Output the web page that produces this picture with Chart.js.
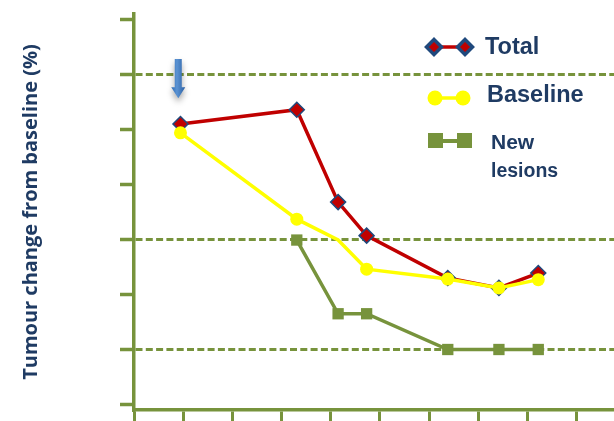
<!DOCTYPE html>
<html>
<head>
<meta charset="utf-8">
<script src="https://cdn.jsdelivr.net/npm/chart.js@4.4.1/dist/chart.umd.min.js"></script>
<style>
  html, body { margin: 0; padding: 0; background: #fff; }
  #wrap { width: 614px; height: 421px; position: relative; }
</style>
</head>
<body>
<div id="wrap"><canvas id="grafica"></canvas></div>
<script>
// DATOS
const xTotal = [0.945, 3.31, 4.15, 4.73, 6.38, 7.42, 8.22];
const total = [-9.0, -6.4, -23.2, -29.3, -37.0, -38.8, -36.1];
const xBaseline = [0.945, 3.31, 4.15, 4.73, 6.38, 7.42, 8.22];
const baseline = [-10.6, -26.3, -30.1, -35.4, -37.2, -38.8, -37.3];
const xNew = [3.31, 4.15, 4.73, 6.38, 7.42, 8.22];
const newLesions = [-30.1, -43.5, -43.5, -50.0, -50.0, -50.0];
const yTicks = [10, 0, -10, -20, -30, -40, -50, -60];
const dashedAt = [0, -30, -50];
const xTicks = [0, 1, 2, 3, 4, 5, 6, 7, 8, 9];
const arrowAt = [0.9, 2.8, -4.3]; // x, top, tip

const verde = "#77933C";
const azulTexto = "#1F3B63";

const pares = (xs, ys) => xs.map((x, i) => ({ x: x, y: ys[i] }));

// FLECHA AZUL
const flecha = {
  id: "flecha",
  afterDatasetsDraw(chart) {
    const ctx = chart.ctx;
    const x = chart.scales.x.getPixelForValue(arrowAt[0]);
    const top = chart.scales.y.getPixelForValue(arrowAt[1]);
    const tip = chart.scales.y.getPixelForValue(arrowAt[2]);
    const neck = tip - 11;
    ctx.save();
    ctx.shadowColor = "rgba(0,0,0,0.35)";
    ctx.shadowBlur = 6;
    ctx.shadowOffsetY = 4;
    const g = ctx.createLinearGradient(x - 7, 0, x + 7, 0);
    g.addColorStop(0, "#2F6CB5");
    g.addColorStop(0.4, "#5B93D3");
    g.addColorStop(1, "#2A5FA3");
    ctx.fillStyle = g;
    ctx.beginPath();
    ctx.moveTo(x - 3.5, top);
    ctx.lineTo(x + 3.5, top);
    ctx.lineTo(x + 3.5, neck);
    ctx.lineTo(x + 7, neck);
    ctx.lineTo(x, tip);
    ctx.lineTo(x - 7, neck);
    ctx.lineTo(x - 3.5, neck);
    ctx.closePath();
    ctx.fill();
    ctx.restore();
  }
};

// LEYENDA
const leyenda = {
  id: "leyenda",
  afterDraw(chart) {
    const ctx = chart.ctx;
    const dp = Chart.helpers.drawPoint;
    ctx.save();
    // Total
    ctx.strokeStyle = "#C00000"; ctx.lineWidth = 3.5;
    ctx.beginPath(); ctx.moveTo(433, 47); ctx.lineTo(465, 47); ctx.stroke();
    ctx.fillStyle = "#C00000"; ctx.strokeStyle = "#1F497D";
    [434, 465].forEach(px => dp(ctx, { pointStyle: "rectRot", radius: 7.5, borderWidth: 2 }, px, 47));
    // Baseline
    ctx.strokeStyle = "#FFFF00"; ctx.lineWidth = 3.5;
    ctx.beginPath(); ctx.moveTo(435, 98); ctx.lineTo(463, 98); ctx.stroke();
    ctx.fillStyle = "#FFFF00";
    [435, 463].forEach(px => dp(ctx, { pointStyle: "circle", radius: 7.5, borderWidth: 0 }, px, 98));
    // New lesions
    ctx.strokeStyle = verde; ctx.lineWidth = 4;
    ctx.beginPath(); ctx.moveTo(435, 141); ctx.lineTo(465, 141); ctx.stroke();
    ctx.fillStyle = verde;
    ctx.fillRect(428, 133, 15, 15);
    ctx.fillRect(457, 133, 15, 15);
    // textos
    ctx.fillStyle = azulTexto;
    ctx.textBaseline = "alphabetic";
    ctx.font = "bold 23.5px 'Liberation Sans', Arial, sans-serif";
    ctx.fillText("Total", 485, 54);
    ctx.fillText("Baseline", 487, 102);
    ctx.font = "bold 21px 'Liberation Sans', Arial, sans-serif";
    ctx.fillText("New", 491, 149);
    ctx.font = "bold 19.5px 'Liberation Sans', Arial, sans-serif";
    ctx.fillText("lesions", 491, 177);
    ctx.restore();
  }
};

const data = {
  datasets: [
    {
      label: "Baseline",
      data: pares(xBaseline, baseline),
      borderColor: "#FFFF00",
      backgroundColor: "#FFFF00",
      borderWidth: 3.5,
      pointStyle: "circle",
      pointRadius: [6.5, 6.5, 0, 6.5, 6.5, 6.5, 6.5],
      pointBorderWidth: 0,
    },
    {
      label: "Total",
      data: pares(xTotal, total),
      borderColor: "#C00000",
      backgroundColor: "#C00000",
      pointBorderColor: "#1F497D",
      borderWidth: 3.5,
      pointStyle: "rectRot",
      pointRadius: 7.5,
      pointBorderWidth: 1.5,
    },
    {
      label: "New lesions",
      data: pares(xNew, newLesions),
      borderColor: verde,
      backgroundColor: verde,
      borderWidth: 3.5,
      pointStyle: "rect",
      pointRadius: 8,
      pointBorderWidth: 0,
    },
  ],
};

const config = {
  type: "line",
  data: data,
  options: {
    responsive: false,
    animation: false,
    layout: { autoPadding: false, padding: { top: 14, right: 0, left: 0, bottom: 0 } },
    plugins: { legend: { display: false }, tooltip: { enabled: false } },
    scales: {
      x: {
        type: "linear",
        min: 0,
        max: 9.76,
        afterBuildTicks: (s) => { s.ticks = xTicks.map(v => ({ value: v })); },
        afterFit: (s) => { s.height = 11; },
        ticks: { display: false },
        grid: { drawOnChartArea: false, tickLength: 11, tickWidth: 3, tickColor: verde },
        border: { color: verde, width: 3.5 },
      },
      y: {
        min: -61,
        max: 11,
        afterBuildTicks: (s) => { s.ticks = yTicks.map(v => ({ value: v })); },
        afterFit: (s) => { s.width = 134; },
        ticks: { display: false },
        grid: {
          color: (c) => (c.tick && dashedAt.includes(c.tick.value) ? verde : "rgba(0,0,0,0)"),
          lineWidth: 3,
          tickLength: 14,
          tickWidth: 3.5,
          tickColor: verde,
        },
        border: { color: verde, width: 3.5, dash: [7, 3.3] },
        title: {
          display: true,
          text: "Tumour change from baseline (%)",
          color: azulTexto,
          font: { family: "'Open Sans', sans-serif", size: 20, weight: "bold" },
          padding: { top: 19, bottom: 0 },
        },
      },
    },
  },
};

const canvas = document.getElementById("grafica");
canvas.width = 614;
canvas.height = 421;
new Chart(canvas, Object.assign(config, { plugins: [flecha, leyenda] }));
</script>
</body>
</html>
